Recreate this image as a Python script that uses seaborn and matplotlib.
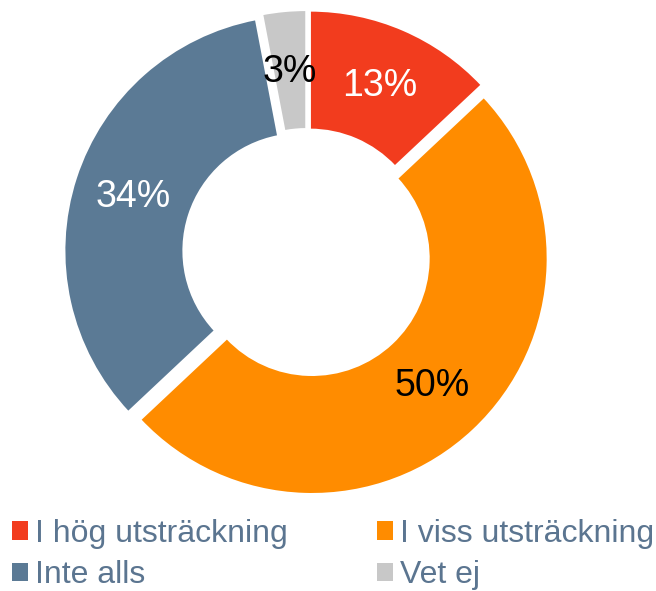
import matplotlib
matplotlib.use("Agg")
import matplotlib.pyplot as plt
from matplotlib.patches import Patch
import numpy as np
import seaborn as sns

categories = ["I hög utsträckning", "I viss utsträckning", "Inte alls", "Vet ej"]
values = [13, 50, 34, 3]
colors = ["#F23C1E", "#FF8C00", "#5B7A95", "#C8C8C8"]
label_colors = ["white", "black", "white", "black"]

sns.set_theme(style="white")
plt.rcParams["font.family"] = ["Liberation Sans", "DejaVu Sans"]

fig = plt.figure(figsize=(6.56, 5.91), dpi=100)
W, H = 656, 591
cx, cy, r = 307, 253, 243
ax = fig.add_axes([(cx - r) / W, (H - cy - r) / H, 2 * r / W, 2 * r / H])

wedges, _ = ax.pie(values, colors=sns.color_palette(colors), startangle=90, counterclock=False,
                   radius=0.97, explode=[0.03] * 4,
                   wedgeprops=dict(width=0.49, edgecolor="white", linewidth=1.5))
total = sum(values)
for v, w, lc in zip(values, wedges, label_colors):
    ang = np.deg2rad((w.theta1 + w.theta2) / 2)
    x, y = 0.75 * np.cos(ang), 0.75 * np.sin(ang)
    ax.text(x, y, f"{round(v / total * 100)}%", ha="center", va="center", fontsize=27, color=lc)
ax.set_xlim(-1, 1)
ax.set_ylim(-1, 1)
ax.set_aspect("equal")
ax.axis("off")

# legend laid out row-wise: (0, 1) on first row, (2, 3) on second
order = [0, 2, 1, 3]
handles = [Patch(facecolor=colors[i], edgecolor="none") for i in order]
labels = [categories[i] for i in order]
leg = fig.legend(handles, labels, loc="center left", bbox_to_anchor=(12 / W, 0.0615), ncol=2,
                 frameon=False, fontsize=23, handlelength=0.5, handleheight=0.5,
                 handletextpad=0.22, columnspacing=2.8, labelspacing=0.36, labelcolor="#5B7590",
                 borderpad=0, borderaxespad=0)

fig.savefig("out.png", dpi=100)
